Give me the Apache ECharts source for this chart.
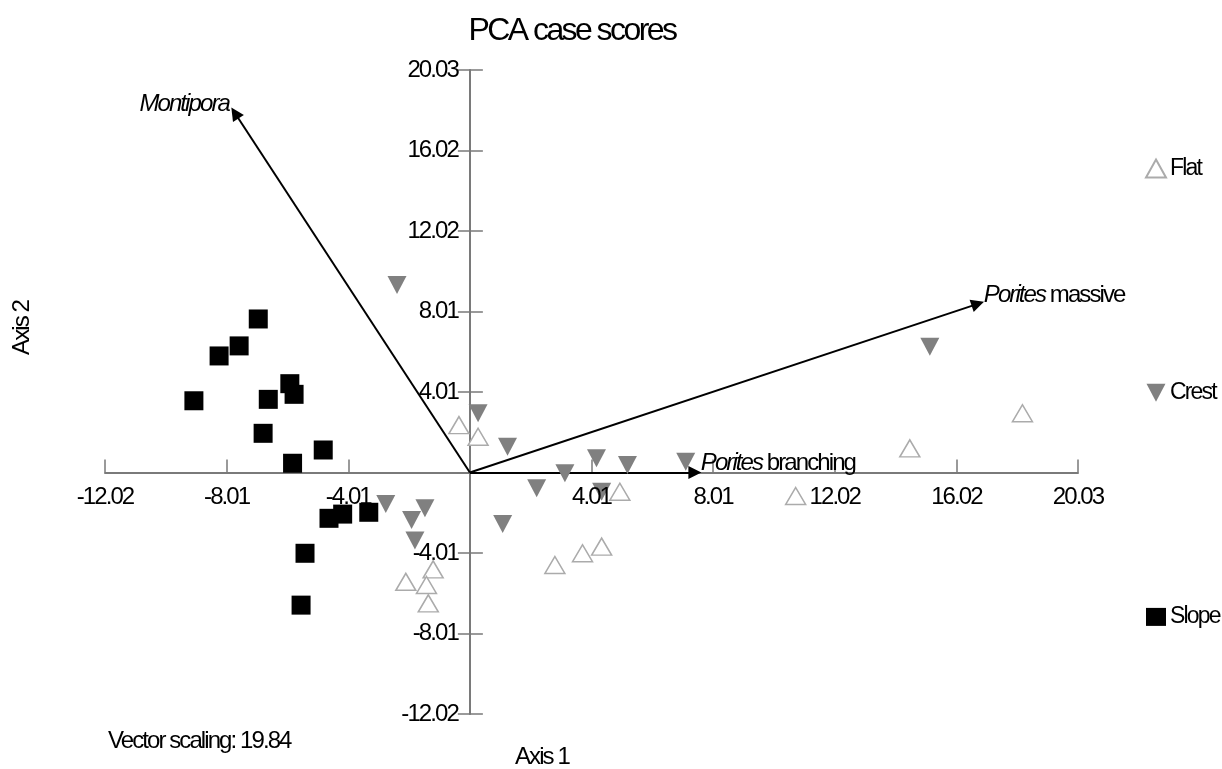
<!DOCTYPE html>
<html>
<head>
<meta charset="utf-8">
<title>PCA case scores</title>
<script src="https://cdn.jsdelivr.net/npm/echarts@6/dist/echarts.min.js"></script>
<style>
  html, body { margin: 0; padding: 0; background: #fff; }
  #chart { width: 1222px; height: 769px; }
</style>
</head>
<body>
<div id="chart"></div>
<script>
// Case scores on the first two PCA axes, grouped by reef zone
const flatScores = [
  [-0.36, 2.36], [0.27, 1.78], [4.94, -0.96], [4.34, -3.69], [3.71, -4.02],
  [2.80, -4.60], [-1.21, -4.82], [-2.11, -5.44], [-1.43, -5.60], [-1.37, -6.51],
  [10.73, -1.17], [14.49, 1.20], [18.20, 2.95]
];
const crestScores = [
  [-2.40, 9.33], [0.27, 2.95], [1.24, 1.28], [4.17, 0.71], [5.19, 0.37],
  [3.13, -0.04], [2.20, -0.79], [1.08, -2.56], [-2.77, -1.57], [-1.48, -1.78],
  [-1.92, -2.36], [-1.81, -3.39], [4.34, -0.96], [7.11, 0.54], [15.15, 6.26]
];
const slopeScores = [
  [-6.97, 7.64], [-7.60, 6.30], [-8.26, 5.80], [-9.09, 3.57], [-5.93, 4.42],
  [-5.79, 3.89], [-6.64, 3.64], [-6.81, 1.95], [-4.83, 1.12], [-5.84, 0.46],
  [-4.64, -2.28], [-4.19, -2.07], [-3.33, -1.98], [-5.43, -4.02], [-5.56, -6.60]
];

// Variable vectors (scaled), genus in italics followed by growth form
const vectorEnds = [[-7.74, 17.89], [16.73, 8.39], [7.41, 0]];
const vectorGenus = ['Montipora', 'Porites', 'Porites'];
const vectorForm = ['', 'massive', 'branching'];

// Shared axis scale and its tick labels
const axisMin = -12.018;
const axisMax = 20.03;
const tickStep = 4.006;
const tickLabels = ['-12.02', '-8.01', '-4.01', '', '4.01', '8.01', '12.02', '16.02', '20.03'];

const groupNames = ['Flat', 'Crest', 'Slope'];
const vectorScaling = '19.84';

const FONT = "'Liberation Sans', Arial, Helvetica, sans-serif";
const AXIS_GREY = '#7a7a7a';

// Tight, condensed tracking for every piece of canvas text (measured and drawn alike)
(function () {
  const proto = CanvasRenderingContext2D.prototype;
  function tighten(ctx) {
    if (!('letterSpacing' in ctx)) return;
    const m = /(\d+(?:\.\d+)?)px/.exec(ctx.font);
    if (m) ctx.letterSpacing = (-0.08 * parseFloat(m[1])).toFixed(2) + 'px';
  }
  const origFill = proto.fillText;
  const origStroke = proto.strokeText;
  const origMeasure = proto.measureText;
  proto.fillText = function () { tighten(this); return origFill.apply(this, arguments); };
  proto.strokeText = function () { tighten(this); return origStroke.apply(this, arguments); };
  proto.measureText = function () { tighten(this); return origMeasure.apply(this, arguments); };
})();

const chart = echarts.init(document.getElementById('chart'), null, { renderer: 'canvas' });

const labelText = {
  color: '#000',
  fontFamily: FONT,
  fontSize: 24
};

function tickLabel(value, index) {
  return tickLabels[index] !== undefined ? tickLabels[index] : '';
}

const tickLine = { color: AXIS_GREY, width: 1.5 };

const scale = { type: 'value', min: axisMin, max: axisMax, interval: tickStep };

const option = {
  backgroundColor: '#fff',
  animation: false,
  grid: { left: 105, right: 144, top: 70, bottom: 55, containLabel: false },
  xAxis: [
    Object.assign({
      position: 'bottom',
      offset: 0,
      axisLine: { onZero: false, lineStyle: { color: AXIS_GREY, width: 2 } },
      axisTick: { show: true, inside: true, length: 13, lineStyle: tickLine },
      axisLabel: { show: false },
      splitLine: { show: false }
    }, scale),
    // tick labels of the horizontal axis, kept above the markers
    Object.assign({
      position: 'bottom',
      offset: 0,
      z: 6,
      axisLine: { show: false, onZero: false },
      axisTick: { show: false },
      axisLabel: Object.assign({ margin: 14, formatter: tickLabel, showMinLabel: true, showMaxLabel: true, hideOverlap: false }, labelText),
      splitLine: { show: false }
    }, scale)
  ],
  yAxis: [
    Object.assign({
      position: 'left',
      offset: 0,
      axisLine: { onZero: false, lineStyle: { color: AXIS_GREY, width: 2 } },
      axisTick: { show: true, inside: false, length: 12, lineStyle: tickLine },
      axisLabel: Object.assign({ margin: 12, formatter: tickLabel, showMinLabel: true, showMaxLabel: true, hideOverlap: false }, labelText),
      splitLine: { show: false }
    }, scale),
    // mirror of the vertical axis so its ticks cross the line
    Object.assign({
      position: 'left',
      offset: 0,
      axisLine: { show: false, onZero: false },
      axisTick: { show: true, inside: true, length: 13, lineStyle: tickLine },
      axisLabel: { show: false },
      splitLine: { show: false }
    }, scale)
  ],
  legend: {
    orient: 'vertical',
    left: 1145,
    top: 158,
    padding: 0,
    itemWidth: 20,
    itemHeight: 18,
    itemGap: 203,
    selectedMode: false,
    data: groupNames,
    textStyle: { color: '#000', fontFamily: FONT, fontSize: 23, padding: [0, 0, 0, -1] }
  },
  graphic: [
    {
      type: 'text', z: 10,
      x: 572, y: 31,
      style: { text: 'PCA case scores', fontFamily: FONT, fontSize: 32, fill: '#000', align: 'center', verticalAlign: 'middle' }
    },
    {
      type: 'text', z: 10,
      x: 22, y: 328, rotation: Math.PI / 2,
      style: { text: 'Axis 2', fontFamily: FONT, fontSize: 24, fill: '#000', align: 'center', verticalAlign: 'middle' }
    },
    {
      type: 'text', z: 10,
      x: 515, y: 757,
      style: { text: 'Axis 1', fontFamily: FONT, fontSize: 24, fill: '#000', align: 'left', verticalAlign: 'middle' }
    },
    {
      type: 'text', z: 10,
      x: 108, y: 741,
      style: { text: 'Vector scaling: ' + vectorScaling, fontFamily: FONT, fontSize: 24, fill: '#000', align: 'left', verticalAlign: 'middle' }
    }
  ],
  series: [
    {
      name: 'Vectors',
      type: 'lines',
      coordinateSystem: 'cartesian2d',
      xAxisIndex: 0, yAxisIndex: 0,
      symbol: ['none', 'triangle'],
      symbolSize: 13,
      lineStyle: { color: '#000', width: 2, opacity: 1, curveness: 0 },
      silent: true,
      z: 1,
      data: vectorEnds.map(function (p) { return { coords: [[0, 0], p] }; })
    },
    {
      name: 'Vector labels',
      type: 'scatter',
      xAxisIndex: 0, yAxisIndex: 0,
      symbolSize: 0,
      silent: true,
      z: 5,
      itemStyle: { opacity: 1 },
      // labels on left-pointing vectors sit to the left of the arrow tip
      data: vectorEnds.map(function (p) {
        return { value: p, label: { position: p[0] < 0 ? 'left' : 'right' } };
      }),
      label: {
        show: true,
        opacity: 1,
        distance: 6,
        offset: [0, -9],
        color: '#000',
        fontFamily: FONT,
        fontSize: 24,
        position: 'right',
        formatter: function (p) {
          const form = vectorForm[p.dataIndex];
          return '{g|' + vectorGenus[p.dataIndex] + '}' + (form ? '{f| ' + form + '}' : '');
        },
        rich: {
          g: { fontStyle: 'italic', fontFamily: FONT, fontSize: 24, color: '#000', opacity: 1 },
          f: { fontFamily: FONT, fontSize: 24, color: '#000', opacity: 1 }
        }
      }
    },
    {
      name: 'Flat',
      type: 'scatter',
      xAxisIndex: 0, yAxisIndex: 0,
      symbol: 'triangle',
      symbolSize: [20, 17],
      itemStyle: { color: '#ffffff', borderColor: '#ababab', borderWidth: 1.5, opacity: 1 },
      z: 3,
      data: flatScores
    },
    {
      name: 'Crest',
      type: 'scatter',
      xAxisIndex: 0, yAxisIndex: 0,
      symbol: 'path://M0,0L20,0L10,19Z',
      symbolSize: [19, 18],
      itemStyle: { color: '#808080', opacity: 1 },
      z: 3,
      data: crestScores
    },
    {
      name: 'Slope',
      type: 'scatter',
      xAxisIndex: 0, yAxisIndex: 0,
      symbol: 'rect',
      symbolSize: 19,
      itemStyle: { color: '#000000', opacity: 1 },
      z: 3,
      data: slopeScores
    }
  ]
};

chart.setOption(option);

// Move both axes (with their ticks and labels) onto the origin, found through the chart's own scale
const origin = chart.convertToPixel({ gridIndex: 0 }, [0, 0]);
const corner = chart.convertToPixel({ gridIndex: 0 }, [axisMin, axisMin]);
const yShift = -(origin[0] - corner[0]);
const xShift = -(corner[1] - origin[1]);
chart.setOption({
  xAxis: [{ offset: xShift }, { offset: xShift }],
  yAxis: [{ offset: yShift }, { offset: yShift }]
});
</script>
</body>
</html>
